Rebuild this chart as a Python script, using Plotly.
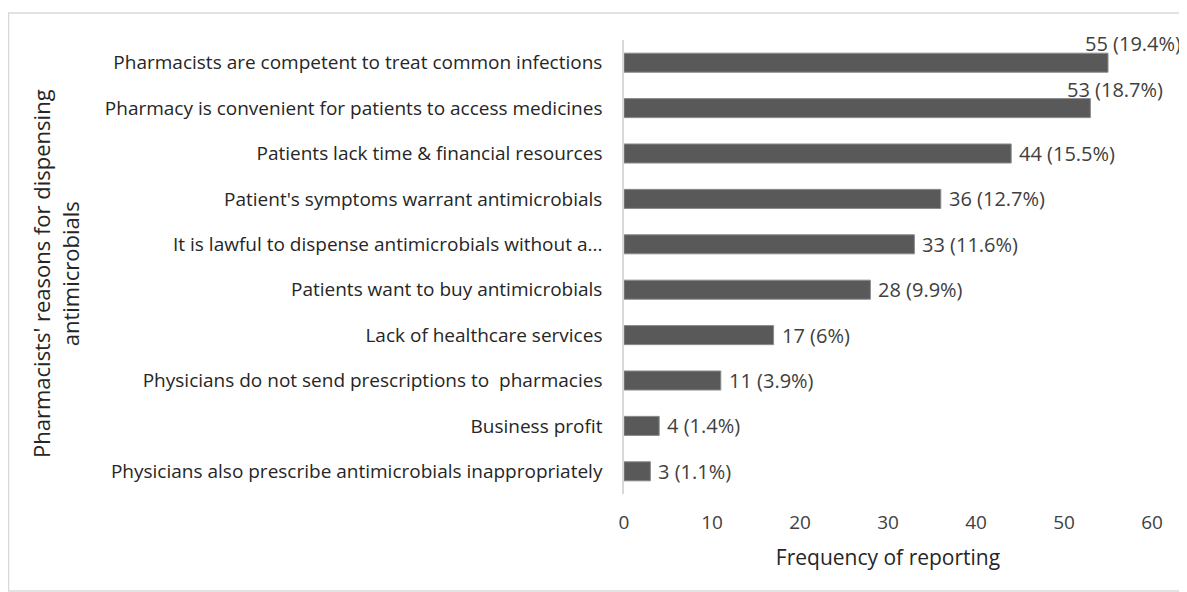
import plotly.graph_objects as go

categories = [
    "Pharmacists are competent to treat common infections",
    "Pharmacy is convenient for patients to access medicines",
    "Patients lack time & financial resources",
    "Patient's symptoms warrant antimicrobials",
    "It is lawful to dispense antimicrobials without a...",
    "Patients want to buy antimicrobials",
    "Lack of healthcare services",
    "Physicians do not send prescriptions to  pharmacies",
    "Business profit",
    "Physicians also prescribe antimicrobials inappropriately",
]
values = [55, 53, 44, 36, 33, 28, 17, 11, 4, 3]
percents = ["19.4%", "18.7%", "15.5%", "12.7%", "11.6%", "9.9%", "6%", "3.9%", "1.4%", "1.1%"]
x_ticks = [0, 10, 20, 30, 40, 50, 60]

OFF = 8
W, H = 1187 - OFF, 592 - OFF
ML, MT = 624 - OFF, 40 - OFF
MR = W - (1152 - OFF)
MB = H - (494 - OFF)
FONT = "Open Sans"
TXT = "#404040"
SZ = 19
LSZ = 20

fig = go.Figure()
fig.add_trace(go.Bar(
    y=categories, x=values, orientation="h",
    marker=dict(color="#595959", line=dict(color="#8c8c8c", width=1)),
    width=0.42, hoverinfo="skip",
))

annotations = []
for i, (c, v, p) in enumerate(zip(categories, values, percents)):
    label = f"{v} ({p})"
    if i < 2:
        annotations.append(dict(x=v, y=c, text=label, showarrow=False, xanchor="left",
                                yanchor="middle", xshift=-25, yshift=19,
                                font=dict(family=FONT, size=LSZ, color=TXT)))
    else:
        annotations.append(dict(x=v, y=c, text=label, showarrow=False, xanchor="left",
                                yanchor="middle", xshift=6, yshift=0,
                                font=dict(family=FONT, size=LSZ, color=TXT)))

pw = W - ML - MR
ph = H - MT - MB
annotations.append(dict(
    xref="paper", yref="paper", x=(55 - OFF - ML) / pw, y=(494 - 274) / 454,
    text="Pharmacists' reasons for dispensing<br>antimicrobials",
    textangle=-90, showarrow=False, xanchor="center", yanchor="middle",
    font=dict(family=FONT, size=22, color="#262626"),
))

fig.update_layout(
    width=W, height=H,
    margin=dict(l=ML, r=MR, t=MT, b=MB, pad=0),
    paper_bgcolor="white", plot_bgcolor="white",
    showlegend=False,
    annotations=annotations,
    xaxis=dict(
        range=[0, 60], tickvals=x_ticks, showgrid=False, zeroline=False,
        showline=False, ticks="", ticklabelstandoff=15,
        tickfont=dict(family=FONT, size=SZ, color=TXT),
        title=dict(text="Frequency of reporting", standoff=16,
                   font=dict(family=FONT, size=21, color="#262626")),
        fixedrange=True,
    ),
    yaxis=dict(
        autorange="reversed", showgrid=False, zeroline=False,
        showline=True, linecolor="#d9d9d9", linewidth=1.5, ticks="",
        ticklabelstandoff=16,
        tickfont=dict(family=FONT, size=SZ, color="#262626"),
        fixedrange=True,
    ),
    shapes=[dict(
        type="rect", xref="paper", yref="paper",
        x0=(0.5 - ML) / pw, x1=(1186 - OFF - ML) / pw,
        y0=(H - MB - (591 - OFF)) / ph, y1=(H - MB - (13 - OFF)) / ph,
        line=dict(color="#d9d9d9", width=1.5), fillcolor="rgba(0,0,0,0)", layer="below",
    )],
)

fig.write_html("out.html")
